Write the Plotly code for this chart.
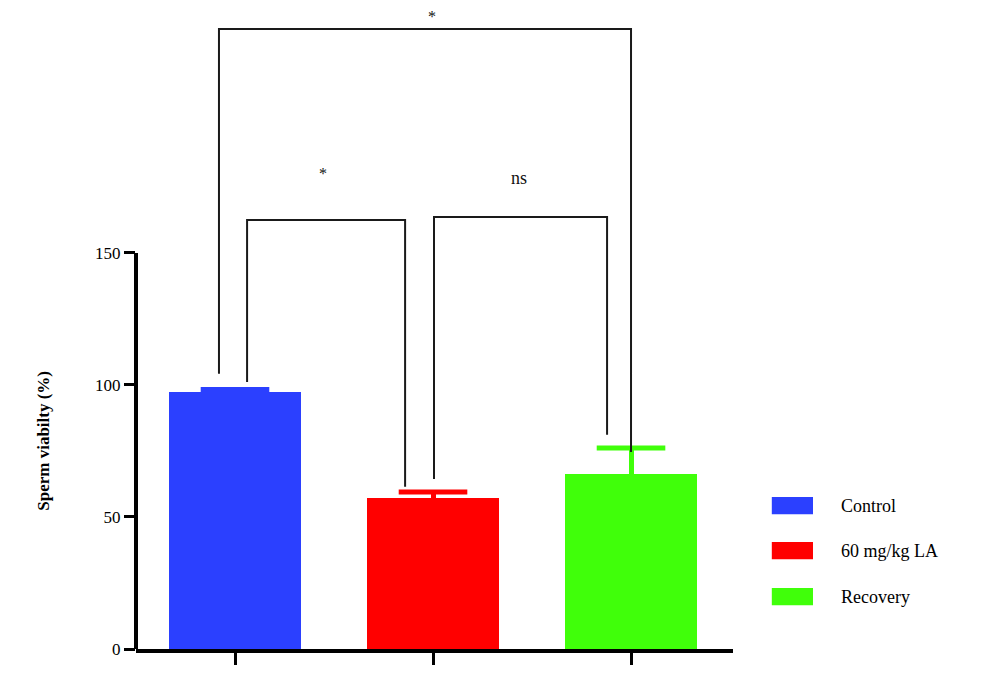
import plotly.graph_objects as go

# ---- data ----
groups = ["Control", "60 mg/kg LA", "Recovery"]
viability = [97.3, 57.2, 66.3]
sem_up = [1.0, 2.3, 9.8]
colors = ["#2b40ff", "#ff0000", "#40ff0a"]
y_ticks = [0, 50, 100, 150]

# significance brackets
brackets_x_left = [-0.081, 0.061, 1.005]
brackets_x_right = [2.0, 0.859, 1.879]
brackets_y_top = [234.8, 162.5, 163.6]
brackets_y_left_end = [104.2, 101.1, 64.4]
brackets_y_right_end = [74.6, 61.4, 81.1]
bracket_labels = ["*", "*", "ns"]
label_x = [0.995, 0.444, 1.434]
label_y = [239.5, 180.0, 178.4]

FONT = "Liberation Serif"

fig = go.Figure()
for i, g in enumerate(groups):
    # bar + error stem (no caps)
    fig.add_trace(go.Bar(
        x=[i], y=[viability[i]], name=g, width=0.667,
        marker=dict(color=colors[i], line=dict(width=0)),
        error_y=dict(type="data", symmetric=False, array=[sem_up[i]], arrayminus=[0],
                     width=0, thickness=5, color=colors[i]),
        showlegend=False,
    ))
    # upper cap of the error bar only
    fig.add_trace(go.Scatter(
        x=[i], y=[viability[i] + sem_up[i]], mode="markers",
        marker=dict(symbol="line-ew", size=49, color=colors[i],
                    line=dict(color=colors[i], width=5)),
        showlegend=False, hoverinfo="skip",
    ))

shapes = []
# y axis line only up to 150
shapes.append(dict(type="line", xref="paper", yref="y", x0=0, x1=0, y0=-0.6, y1=150,
                   line=dict(color="black", width=4)))
for xl, xr, yt, yl, yr in zip(brackets_x_left, brackets_x_right, brackets_y_top,
                              brackets_y_left_end, brackets_y_right_end):
    shapes.append(dict(type="path", xref="x", yref="y",
                       path=f"M {xl} {yl} L {xl} {yt} L {xr} {yt} L {xr} {yr}",
                       line=dict(color="#1a1a1a", width=2), layer="above"))

annotations = []
for lab, lx, ly in zip(bracket_labels, label_x, label_y):
    annotations.append(dict(x=lx, y=ly, xref="x", yref="y", text=lab, showarrow=False,
                            font=dict(family=FONT, size=18 if lab == "ns" else 16, color="#111")))

# y axis title
annotations.append(dict(x=-0.154, y=0.326, xref="paper", yref="paper",
                        xanchor="center", yanchor="middle",
                        text="<b>Sperm viabilty (%)</b>", textangle=-90, showarrow=False,
                        font=dict(family=FONT, size=17, color="black")))

# manual legend
leg_y_centers = [0.2245, 0.154, 0.082]
for g, c, yc in zip(groups, colors, leg_y_centers):
    shapes.append(dict(type="rect", xref="paper", yref="paper", x0=1.065, x1=1.134,
                       y0=yc - 0.0135, y1=yc + 0.0135, fillcolor=c, line=dict(width=0)))
    annotations.append(dict(x=1.177, y=yc, xref="paper", yref="paper", text=g,
                            showarrow=False, xanchor="left", yanchor="middle",
                            font=dict(family=FONT, size=18, color="black")))

fig.update_layout(
    width=1000, height=689,
    margin=dict(l=128, r=275, t=2, b=48),
    plot_bgcolor="white", paper_bgcolor="white",
    shapes=shapes, annotations=annotations,
    font=dict(family=FONT, size=17, color="black"),
    bargap=0,
)
fig.update_xaxes(range=[-0.5, 2.515], showline=True, linecolor="black", linewidth=4,
                 ticks="outside", ticklen=12, tickwidth=3, tickcolor="black",
                 tickvals=[0, 1, 2], showticklabels=False, showgrid=False, zeroline=False)
fig.update_yaxes(range=[0, 242], showline=False, ticks="outside", ticklen=11, tickwidth=3,
                 tickcolor="black", tickvals=y_ticks, ticktext=[str(v) for v in y_ticks],
                 showgrid=False, zeroline=False, tickfont=dict(family=FONT, size=17))

fig.write_html("out.html")
